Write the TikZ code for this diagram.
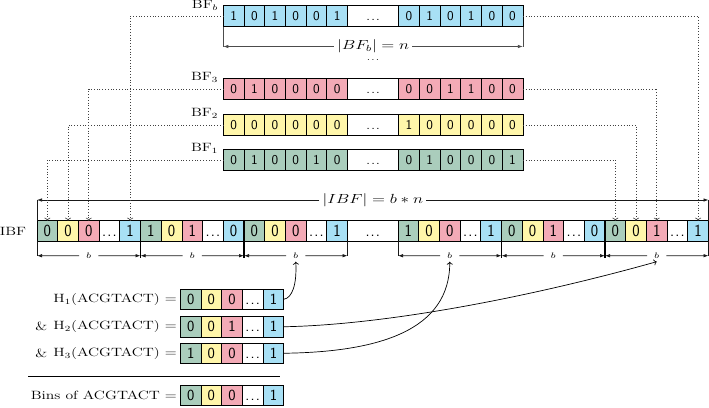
\documentclass[tikz,border=0pt]{standalone}
\usetikzlibrary{arrows.meta,calc}
\definecolor{cg}{RGB}{170,205,188}
\definecolor{cy}{RGB}{255,246,170}
\definecolor{cp}{RGB}{243,170,182}
\definecolor{cb}{RGB}{168,224,245}
\newcommand\cellfont{\fontsize{13.5}{15}\selectfont\sffamily}
\newcommand\ibffont{\fontsize{17}{19}\selectfont\sffamily}
\newcommand\hfont{\fontsize{15.5}{17}\selectfont\sffamily}
\newcommand\lblfont{\fontsize{12}{14}\selectfont}
\newcommand\mthfont{\fontsize{12}{14}\selectfont}
\newcommand\stx[1]{\scalebox{1.3}[1]{#1}}
\newcommand\stm[1]{\scalebox{1.42}[1.1]{#1}}
\newcommand\nrw[1]{\scalebox{0.92}[1]{#1}}
\newcommand\dts{\vphantom{0}.\kern1.2pt.\kern1.2pt.}
\newcommand\bfrow[5]{%
  \foreach \v [count=\i] in {#5} {%
    \pgfmathsetmacro\xx{#2+(\i-1)*20.7+(\i>6)*51.2}%
    \node[cell, fill=#4] (#1-\i) at (\xx,#3) {\v};
  }%
  \node[cell, minimum width=51.2pt] (#1-d) at (#2+6*20.7,#3) {\dts};
}
\newcommand\hrow[6]{%
  \node[hcell, fill=cg] (#1-1) at (180.3,#2) {#3};
  \node[hcell, fill=cy] (#1-2) at (201,#2) {#4};
  \node[hcell, fill=cp] (#1-3) at (221.7,#2) {#5};
  \node[hcell] (#1-4) at (242.4,#2) {\dts};
  \node[hcell, fill=cb] (#1-5) at (263.1,#2) {#6};
}
\begin{document}
\begin{tikzpicture}[x=1pt,y=-1pt,
  cell/.style={draw=black, line width=0.7pt, minimum width=20.7pt, minimum height=21pt,
    inner sep=0pt, outer sep=0pt, anchor=north west, font=\cellfont},
  icell/.style={cell, minimum height=20.5pt, font=\ibffont},
  hcell/.style={cell, minimum height=20.5pt, font=\hfont},
  dotline/.style={black!75, line width=0.6pt, dash pattern=on 0.7pt off 2.1pt,
    -{To[length=3pt,width=6pt]}},
  dimg/.style={draw=black!70, line width=0.7pt},
  dimk/.style={draw=black!90, line width=0.7pt},
  tipl/.style={-{Latex[length=5pt,width=3.5pt]}},
  blbl/.style={fill=white, inner xsep=7pt, inner ysep=3pt, font=\fontsize{8}{9}\selectfont},
  curv/.style={line width=0.7pt, -{To[length=3pt,width=6pt]}},
  lbl/.style={font=\lblfont, inner sep=0pt}
]
\useasboundingbox (0,0) rectangle (709,407);

% Bloom filters
\bfrow{bfb}{223.3}{5.5}{cb}{1,0,1,0,0,1,0,1,0,1,0,0}
\bfrow{bf3}{223.3}{78.3}{cp}{0,1,0,0,0,0,0,0,1,1,0,0}
\bfrow{bf2}{223.3}{114.5}{cy}{0,0,0,0,0,0,1,0,0,0,0,0}
\bfrow{bf1}{223.3}{149.5}{cg}{0,1,0,0,1,0,0,1,0,0,0,1}

\node[lbl, anchor=base east] (lbfb) at ($(bfb-1.north west)+(-5,3)$) {\stx{BF$_b$}};
\node[lbl, anchor=base east] (lbf3) at ($(bf3-1.north west)+(-5,2)$) {\stx{BF$_3$}};
\node[lbl, anchor=base east] (lbf2) at ($(bf2-1.north west)+(-5,2)$) {\stx{BF$_2$}};
\node[lbl, anchor=base east] (lbf1) at ($(bf1-1.north west)+(-5,2)$) {\stx{BF$_1$}};

% |BF_b| = n
\path (bfb-1.south west) ++(0,20) coordinate (bfl);
\path (bfb-12.south east) ++(0,20) coordinate (bfr);
\draw[dimg] (bfb-1.south west) -- (bfl);
\draw[dimg] (bfb-12.south east) -- (bfr);
\node[fill=white, inner sep=3pt, font=\mthfont] (bfn) at ($(bfl)!0.5!(bfr)$) {\stm{$|BF_b| = n$}};
\draw[dimg, tipl] (bfn) -- (bfl);
\draw[dimg, tipl] (bfn) -- (bfr);
\node[font=\fontsize{10}{12}\selectfont] (cdots) at (373,60) {$\cdots$};

% IBF
\foreach \g/\va/\vb/\vc/\ve in {1/0/0/0/1, 2/1/0/1/0, 3/0/0/0/1, 4/1/0/0/1, 5/0/0/1/0, 6/0/0/1/1} {
  \pgfmathsetmacro\gx{37+(\g-1)*103.5+(\g>3)*50.5}
  \node[icell, fill=cg] (ibf-\g-1) at (\gx,220.7) {\nrw{\va}};
  \node[icell, fill=cy] (ibf-\g-2) at (\gx+20.7,220.7) {\nrw{\vb}};
  \node[icell, fill=cp] (ibf-\g-3) at (\gx+41.4,220.7) {\nrw{\vc}};
  \node[icell] (ibf-\g-4) at (\gx+62.1,220.7) {\nrw{\dts}};
  \node[icell, fill=cb] (ibf-\g-5) at (\gx+82.8,220.7) {\nrw{\ve}};
}
\node[icell, minimum width=50.5pt] (ibf-d) at (347.5,220.7) {\nrw{\dts}};
\node[lbl] (libf) at (13,231) {\stx{IBF}};

% |IBF| = b*n
\path (ibf-1-1.north west) ++(0,-20.7) coordinate (ibl);
\path (ibf-6-5.north east) ++(0,-20.7) coordinate (ibr);
\draw[dimk] (ibf-1-1.north west) -- (ibl);
\draw[dimk] (ibf-6-5.north east) -- (ibr);
\node[fill=white, inner sep=3pt, font=\mthfont] (ibn) at ($(ibl)!0.5!(ibr)$) {\stm{$|IBF| = b*n$}};
\draw[dimk, tipl] (ibn) -- (ibl);
\draw[dimk, tipl] (ibn) -- (ibr);

% bin widths b
\foreach \g in {1,...,6} {
  \path (ibf-\g-1.south west) ++(0,14.5) coordinate (bl\g);
  \path (ibf-\g-5.south east) ++(0,14.5) coordinate (br\g);
  \node[blbl] (b\g) at ($(bl\g)!0.5!(br\g)$) {\stx{$b$}};
  \draw[dimk, tipl] (b\g) -- (bl\g);
  \draw[dimk, tipl] (b\g) -- (br\g);
}
\foreach \g in {1,2,4,5} {
  \draw[line width=1.4pt] (ibf-\g-5.north east) -- ($(br\g)+(0,2)$);
}
\draw[dimk] (ibf-1-1.south west) -- (bl1);
\draw[dimk] (ibf-3-5.south east) -- (br3);
\draw[dimk] (ibf-4-1.south west) -- (bl4);
\draw[dimk] (ibf-6-5.south east) -- (br6);

% dotted connectors
\draw[dotline] (bfb-1.west) -| (ibf-1-5.north);
\draw[dotline] (bf3-1.west) -| (ibf-1-3.north);
\draw[dotline] (bf2-1.west) -| (ibf-1-2.north);
\draw[dotline] (bf1-1.west) -| (ibf-1-1.north);
\draw[dotline] (bfb-12.east) -| (ibf-6-5.north);
\draw[dotline] (bf3-12.east) -| (ibf-6-3.north);
\draw[dotline] (bf2-12.east) -| (ibf-6-2.north);
\draw[dotline] (bf1-12.east) -| (ibf-6-1.north);

% hash rows
\hrow{h1}{289}{0}{0}{0}{1}
\hrow{h2}{316.5}{0}{0}{1}{1}
\hrow{h3}{343}{1}{0}{0}{1}
\hrow{bins}{385}{0}{0}{0}{1}

\node[lbl, anchor=east] (lh1) at (177,299.25) {\stx{H$_1$(ACGTACT) =}};
\node[lbl, anchor=east] (lh2) at (177,326.75) {\stx{H$_2$(ACGTACT) =}};
\node[lbl, anchor=east] (lh3) at (177,353.25) {\stx{H$_3$(ACGTACT) =}};
\node[lbl] (amp2) at (41.3,326.75) {\stx{\&}};
\node[lbl] (amp3) at (41.3,353.25) {\stx{\&}};
\node[lbl, anchor=east] (lbins) at (177,395.25) {\stx{Bins of ACGTACT =}};

\coordinate (sepa) at (28.3,376);
\coordinate (sepb) at (280,376);
\draw[line width=0.7pt] (sepa) -- (sepb);

% hash arrows
\draw[curv] (h1-5.east) .. controls (292,298) and (297,285) .. (b3.south);
\draw[curv] (h2-5.east) .. controls (380,325) and (520,300) .. (b6.south);
\draw[curv] (h3-5.east) .. controls (380,352) and (450,330) .. (b4.south);
\end{tikzpicture}
\end{document}
